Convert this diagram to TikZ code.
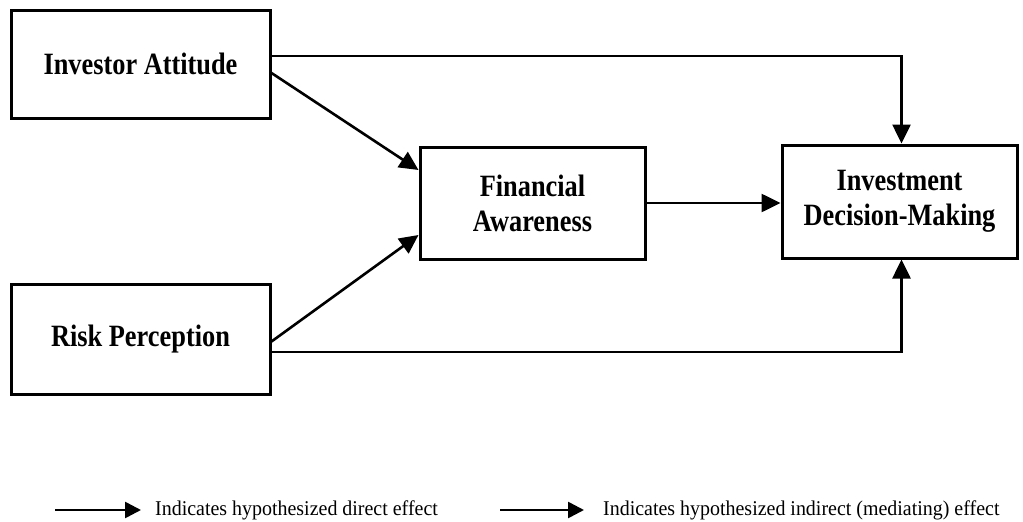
\documentclass[tikz,border=0pt]{standalone}
\usepackage{fontspec}
\setmainfont{Liberation Serif}
\newfontfamily\boxfont[FakeStretch=0.85]{Liberation Serif}
\newfontfamily\keyfont[FakeStretch=0.95]{Liberation Serif}
\usepackage{tikz}
\usetikzlibrary{arrows.meta,positioning,calc}
\tikzset{
    varbox/.style={
        draw,
        line width=3pt,
        inner sep=0pt,
        align=center,
        font=\boxfont\fontsize{31}{35}\selectfont\bfseries
    },
    % arrows between the boxes
    patharrow/.style={
        line width=2.6pt,
        black,
        ->,
        >={Triangle[length=19pt, width=18pt]}
    },
    % arrows of the legend
    keyarrow/.style={
        line width=2.6pt,
        black,
        ->,
        >={Triangle[length=16pt, width=16pt]}
    },
    keytext/.style={
        anchor=west,
        inner sep=0pt,
        font=\keyfont\fontsize{21}{24}\selectfont
    }
}

\begin{document}
\begin{tikzpicture}[x=1pt,y=-1pt]
    \useasboundingbox (0,0) rectangle (1023,522);

    % ===================== boxes =====================
    \node[varbox, minimum width=259pt, minimum height=108pt] (ia) at (140.5,64) {Investor Attitude};
    \node[varbox, minimum width=259pt, minimum height=110pt] (rp) at (140.5,339.5) {Risk Perception};
    \node[varbox, minimum width=225pt, minimum height=112pt] (fa) at (532.5,203) {Financial\\Awareness};
    \node[varbox, minimum width=235pt, minimum height=113pt] (dm) at (899.5,201.5) {Investment\\Decision-Making};

    % ===================== arrows =====================
    \draw[patharrow] ([yshift=-9pt]ia.east) -- ([yshift=33pt]fa.west);
    \draw[patharrow] ([yshift=-2pt]rp.east) -- ([yshift=-32pt]fa.west);
    \draw[patharrow] (fa.east) -- (fa.east -| dm.west);

    %direct paths round the outside
    \draw[patharrow] ([yshift=8pt]ia.east) -| ([xshift=2pt]dm.north);
    \draw[patharrow] ([yshift=-12.5pt]rp.east) -| ([xshift=2pt]dm.south);

    % ===================== legend =====================
    \node[keytext] (kdirect) at (155,510) {Indicates hypothesized direct effect};
    \node[keytext] (kindirect) at (603,510) {Indicates hypothesized indirect (mediating) effect};
    \coordinate (kdstart) at (55,510);
    \coordinate (kistart) at (500,510);
    \draw[keyarrow] (kdstart) -- ([xshift=-14pt]kdirect.west);
    \draw[keyarrow] (kistart) -- ([xshift=-19pt]kindirect.west);
\end{tikzpicture}
\end{document}
